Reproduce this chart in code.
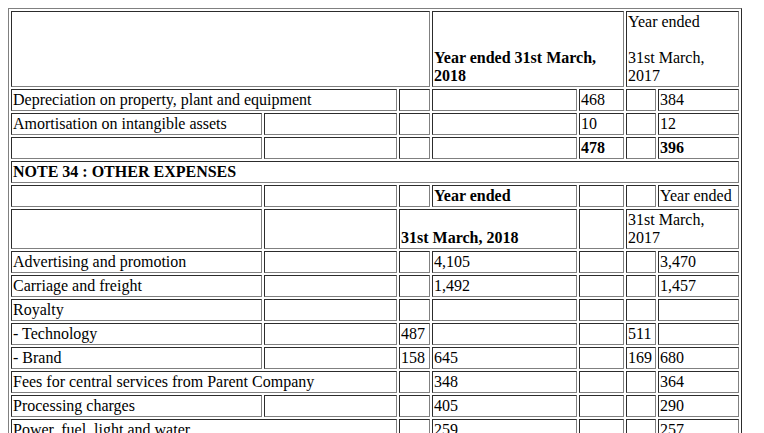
import React from "react";

type Cell = { t?: string; span?: number; b?: boolean; va?: string };

const rows: Cell[][] = [
  [{ span: 3 }, { t: "Year ended 31st March, 2018", span: 2, b: true, va: "bottom" }, { t: "Year ended\n\n31st March,\n2017", span: 2 }],
  [{ t: "Depreciation on property, plant and equipment", span: 2 }, {}, {}, { t: "468" }, {}, { t: "384" }],
  [{ t: "Amortisation on intangible assets" }, {}, {}, {}, { t: "10" }, {}, { t: "12" }],
  [{}, {}, {}, {}, { t: "478", b: true }, {}, { t: "396", b: true }],
  [{ t: "NOTE 34 : OTHER EXPENSES", span: 7, b: true }],
  [{}, {}, {}, { t: "Year ended", b: true }, {}, {}, { t: "Year ended" }],
  [{}, {}, { t: "31st March, 2018", span: 2, b: true, va: "bottom" }, {}, { t: "31st March,\n2017", span: 2 }],
  [{ t: "Advertising and promotion" }, {}, {}, { t: "4,105" }, {}, {}, { t: "3,470" }],
  [{ t: "Carriage and freight" }, {}, {}, { t: "1,492" }, {}, {}, { t: "1,457" }],
  [{ t: "Royalty" }, {}, {}, {}, {}, {}, {}],
  [{ t: "- Technology" }, {}, { t: "487" }, {}, {}, { t: "511" }, {}],
  [{ t: "- Brand" }, {}, { t: "158" }, { t: "645" }, {}, { t: "169" }, { t: "680" }],
  [{ t: "Fees for central services from Parent Company", span: 2 }, {}, { t: "348" }, {}, {}, { t: "364" }],
  [{ t: "Processing charges" }, {}, {}, { t: "405" }, {}, {}, { t: "290" }],
  [{ t: "Power, fuel, light and water", span: 2 }, {}, { t: "259" }, {}, {}, { t: "257" }],
  [{ t: "Repairs and maintenance" }, {}, {}, { t: "180" }, {}, {}, { t: "175" }],
  [{ t: "Rent" }, {}, {}, { t: "120" }, {}, {}, { t: "110" }],
];

const colWidths = [251, 133, 31, 145, 45, 30, 81];

export default function App() {
  return (
    <table border={1} style={{ width: 726, tableLayout: "fixed", fontFamily: "'Liberation Serif', serif", fontSize: 16 }}>
      <colgroup>
        {colWidths.map((w, i) => <col key={i} style={{ width: w }} />)}
      </colgroup>
      <tbody>
        {rows.map((r, i) => (
          <tr key={i} style={i === 0 ? { height: 73 } : undefined}>
            {r.map((c, j) => (
              <td key={j} colSpan={c.span || 1} style={{ verticalAlign: c.va || "middle", fontWeight: c.b ? "bold" : "normal", whiteSpace: "pre-line", overflow: "hidden" }}>
                {c.t ?? "\u00a0"}
              </td>
            ))}
          </tr>
        ))}
      </tbody>
    </table>
  );
}
